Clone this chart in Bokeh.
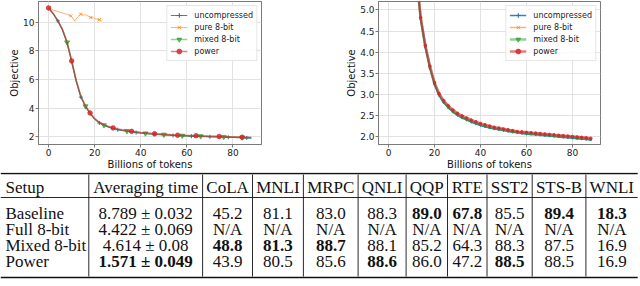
from bokeh.plotting import figure
from bokeh.layouts import column, row
from bokeh.models import (Range1d, FixedTicker, NumeralTickFormatter, Legend,
                          LegendItem, ColumnDataSource)
from bokeh.core.properties import value, field
from bokeh.embed import file_html
from bokeh.resources import INLINE

# ---------------- data: training curves ----------------
tokens = [0, 2, 4, 6, 8, 10, 12, 14, 16, 18, 20, 22, 24, 26, 28, 30, 32, 34, 36, 38,
          40, 42, 44, 46, 48, 50, 52, 54, 56, 58, 60, 62, 64, 66, 68, 70, 72, 74, 76, 78,
          80, 82, 84, 86, 88]
uncompressed = [11.0, 10.6, 10.1, 9.45, 8.55, 7.25, 5.85, 4.78, 4.12, 3.62, 3.23, 2.97,
                2.8, 2.68, 2.58, 2.5, 2.44, 2.39, 2.34, 2.3, 2.26, 2.23, 2.2, 2.18, 2.16,
                2.14, 2.12, 2.1, 2.09, 2.07, 2.06, 2.05, 2.04, 2.03, 2.02, 2.01, 2.0, 1.99,
                1.98, 1.97, 1.96, 1.95, 1.94, 1.93, 1.92]
mixed_8bit = [11.0, 10.6, 10.1, 9.5, 8.6, 7.3, 5.9, 4.8, 4.14, 3.64, 3.25, 2.99, 2.82,
              2.7, 2.6, 2.52, 2.46, 2.41, 2.36, 2.32, 2.28, 2.25, 2.22, 2.2, 2.18, 2.16,
              2.14, 2.12, 2.1, 2.09, 2.08, 2.07, 2.06, 2.05, 2.04, 2.03, 2.02, 2.01, 2.0,
              1.99, 1.98, 1.97, 1.96, 1.95, 1.93]
power = [11.0, 10.6, 10.1, 9.5, 8.6, 7.3, 5.9, 4.82, 4.16, 3.67, 3.28, 3.02, 2.85, 2.73,
         2.63, 2.55, 2.49, 2.44, 2.39, 2.35, 2.31, 2.28, 2.25, 2.22, 2.2, 2.18, 2.16,
         2.14, 2.12, 2.11, 2.1, 2.09, 2.08, 2.07, 2.06, 2.05, 2.04, 2.03, 2.02, 2.01,
         2.0, 1.99, 1.98, 1.97, 1.96]
pure_tokens = [0, 2, 4, 6, 8, 9.6, 10.5, 11.3, 12.5, 13.9, 15, 16, 17, 18.3, 19, 20, 21,
               22, 23]
pure_8bit = [11.0, 10.85, 10.75, 10.65, 10.55, 10.45, 10.3, 10.08, 10.35, 10.57, 10.5,
             10.52, 10.45, 10.33, 10.35, 10.25, 10.22, 10.18, 10.12]

series_names = ["uncompressed", "pure 8-bit", "mixed 8-bit", "power"]
x_ticks = [0, 20, 40, 60, 80]
left_y_ticks = [2, 4, 6, 8, 10]
right_y_ticks = [2.0, 2.5, 3.0, 3.5, 4.0, 4.5, 5.0]

# ---------------- data: GLUE table ----------------
table_header = ["Setup", "Averaging time", "CoLA", "MNLI", "MRPC", "QNLI", "QQP", "RTE",
                "SST2", "STS-B", "WNLI"]
setups = ["Baseline", "Full 8-bit", "Mixed 8-bit", "Power"]
avg_time = ["8.789 ± 0.032", "4.422 ± 0.069", "4.614 ± 0.08", "1.571 ± 0.049"]
cola = ["45.2", "N/A", "48.8", "43.9"]
mnli = ["81.1", "N/A", "81.3", "80.5"]
mrpc = ["83.0", "N/A", "88.7", "85.6"]
qnli = ["88.3", "N/A", "88.1", "88.6"]
qqp = ["89.0", "N/A", "85.2", "86.0"]
rte = ["67.8", "N/A", "64.3", "47.2"]
sst2 = ["85.5", "N/A", "88.3", "88.5"]
stsb = ["89.4", "N/A", "87.5", "88.5"]
wnli = ["18.3", "N/A", "16.9", "16.9"]

# ---------------- styles ----------------
STY = {
    "uncompressed": dict(color="#1f77b4", lw=1.0, la=0.9, marker="cross", size=4),
    "pure 8-bit": dict(color="#ff7f0e", lw=1.0, la=0.6, marker="x", size=4.5),
    "mixed 8-bit": dict(color="#2ca02c", lw=1.6, la=0.5, marker="inverted_triangle", size=5),
    "power": dict(color="#d62728", lw=1.6, la=0.6, marker="circle", size=4.5),
}
MARKS = {
    "uncompressed": [2, 7, 11, 15, 19, 23, 27, 31, 35, 39, 43],
    "pure 8-bit": [0, 5, 9, 13, 17],
    "mixed 8-bit": [4, 8, 12, 17, 21, 25, 29, 33, 38, 42],
    "power": [0, 5, 9, 14, 18, 23, 28, 32, 37, 42],
}
DENSE_LW = {"uncompressed": 1.6, "pure 8-bit": 1.6, "mixed 8-bit": 2.6, "power": 2.6}
AX_COL = "#7a7a7a"
FONT = "DejaVu Sans"
PLOT_H = 172


def make_plot(width, xr, yr, yticks, yfmt, left, right, top, bottom, dense):
    p = figure(width=width, height=PLOT_H, x_range=Range1d(*xr),
               y_range=Range1d(*yr), output_backend="svg", toolbar_location=None,
               min_border_left=left, min_border_right=right, min_border_top=top,
               min_border_bottom=bottom)
    p.outline_line_color = AX_COL
    p.outline_line_width = 1
    data = {
        "uncompressed": (tokens, uncompressed),
        "pure 8-bit": (pure_tokens, pure_8bit),
        "mixed 8-bit": (tokens, mixed_8bit),
        "power": (tokens, power),
    }
    items = []
    for name in series_names:
        xs, ys = data[name]
        s = STY[name]
        lw = DENSE_LW[name] if dense else s["lw"]
        lr = p.line(xs, ys, line_color=s["color"], line_width=lw, line_alpha=s["la"])
        if dense:
            mx, my = xs, ys
            size = 2.5
        else:
            mx = [xs[i] for i in MARKS[name]]
            my = [ys[i] for i in MARKS[name]]
            size = s["size"]
        sr = p.scatter(mx, my, marker=s["marker"], size=size, line_color=s["color"],
                       fill_color=s["color"], line_alpha=s["la"] + 0.2,
                       fill_alpha=s["la"] + 0.2)
        items.append(LegendItem(label=name, renderers=[lr, sr]))
    leg = Legend(items=items, location="top_right", label_text_font=FONT,
                 label_text_font_size="8px", label_text_color="#222222",
                 glyph_width=17, glyph_height=12, label_height=12, label_standoff=7,
                 spacing=0, padding=3, margin=4, border_line_color="#cccccc",
                 border_line_width=1, background_fill_alpha=0.85)
    p.add_layout(leg)

    p.xaxis.ticker = FixedTicker(ticks=x_ticks)
    p.yaxis.ticker = FixedTicker(ticks=yticks)
    if yfmt:
        p.yaxis.formatter = NumeralTickFormatter(format=yfmt)
    p.xaxis.axis_label = "Billions of tokens"
    p.yaxis.axis_label = "Objective"
    for ax in (p.xaxis[0], p.yaxis[0]):
        ax.axis_line_color = AX_COL
        ax.major_tick_line_color = AX_COL
        ax.minor_tick_line_color = None
        ax.major_tick_out = 3
        ax.major_tick_in = 0
        ax.major_label_text_font = FONT
        ax.major_label_text_font_size = "9px"
        ax.major_label_text_color = "#222222"
        ax.major_label_standoff = 1
        ax.axis_label_text_font = FONT
        ax.axis_label_text_font_size = "10px"
        ax.axis_label_text_font_style = "normal"
        ax.axis_label_text_color = "#111111"
        ax.axis_label_standoff = 0
    p.yaxis[0].major_label_standoff = 1
    p.yaxis[0].axis_label_standoff = 0
    p.grid.grid_line_color = "#e2e2e2"
    p.grid.grid_line_width = 1
    return p


p1 = make_plot(320, (-4.4, 92.4), (1.47, 11.45), left_y_ticks, None, 38, 59, 1, 25, False)
p2 = make_plot(320, (-4.35, 92.2), (1.81, 5.2), right_y_ticks, "0.0", 58, 40, 0, 26, True)

# ---------------- table ----------------
TW, TH = 640, 114
pt = figure(width=TW, height=TH, x_range=Range1d(0, TW), y_range=Range1d(TH, 0),
            output_backend="svg", toolbar_location=None, x_axis_type=None,
            y_axis_type=None, min_border_left=0, min_border_right=0, min_border_top=0,
            min_border_bottom=0)
pt.outline_line_color = None
pt.grid.visible = False

col_w = [88.3, 113.8, 49.9, 50.9, 54.7, 48.0, 41.4, 39.5, 45.2, 53.7, 51.8]
edges = [0.0]
for w in col_w:
    edges.append(edges[-1] + w)
centers = [(edges[i] + edges[i + 1]) / 2 for i in range(len(col_w))]

score_cols = [cola, mnli, mrpc, qnli, qqp, rte, sst2, stsb, wnli]
body_cols = [setups, avg_time] + score_cols

# bold = best per column (lowest time, highest score)
times = [float(t.split(" ")[0]) for t in avg_time]
bold = [[False] * len(setups) for _ in body_cols]
for r, t in enumerate(times):
    bold[1][r] = t == min(times)
for c, col in enumerate(score_cols):
    nums = [float(v) for v in col if v != "N/A"]
    for r, v in enumerate(col):
        bold[c + 2][r] = v != "N/A" and float(v) == max(nums)

header_y = 15
row_y = [41, 57, 73, 89]
LEFT_PAD = 5
tx, ty, tt, ta, ts = [], [], [], [], []
for c, h in enumerate(table_header):
    tx.append(LEFT_PAD if c == 0 else centers[c]); ty.append(header_y); tt.append(h)
    ta.append("left" if c == 0 else "center"); ts.append("normal")
for c, col in enumerate(body_cols):
    for r, v in enumerate(col):
        tx.append(LEFT_PAD if c == 0 else centers[c]); ty.append(row_y[r]); tt.append(v)
        ta.append("left" if c == 0 else "center")
        ts.append("bold" if bold[c][r] else "normal")
src = ColumnDataSource(dict(x=tx, y=ty, text=tt, align=ta, style=ts))
pt.text(x="x", y="y", text="text", source=src, text_align=field("align"),
        text_baseline="middle", text_font=value("Liberation Serif"),
        text_font_size="17px", text_font_style=field("style"), text_color="#111111")

# rules
right_end = min(edges[-1], TW)
pt.segment(x0=[0, 0], y0=[1, 105], x1=[right_end, right_end], y1=[1, 105],
           line_color="#111111", line_width=1.6)
pt.segment(x0=[0], y0=[25], x1=[right_end], y1=[25], line_color="#111111",
           line_width=0.9)
seps = edges[1:-1]
pt.segment(x0=seps, y0=[2] * len(seps), x1=seps, y1=[25] * len(seps),
           line_color="#111111", line_width=0.9)
pt.segment(x0=seps, y0=[25] * len(seps), x1=seps, y1=[104] * len(seps),
           line_color="#111111", line_width=0.9)

layout = column(row(p1, p2), pt)
open("out.html", "w", encoding="utf-8").write(file_html(layout, INLINE))
